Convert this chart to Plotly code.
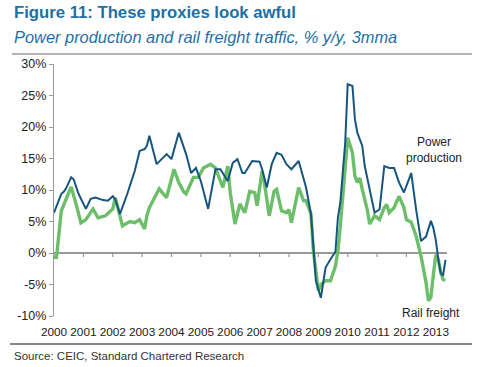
import plotly.graph_objects as go

# Month offsets from Jan 2000 and values (% y/y, 3mma)
power_months = [0, 3, 4, 5, 7, 8, 10, 11, 13, 15, 17, 20, 22, 24, 25, 27, 30, 33, 35, 37, 38, 39,
                42, 46, 48, 51, 54, 56, 58, 60, 63, 66, 68, 71, 73, 75, 77, 78, 81, 84, 85, 87,
                89, 91, 93, 95, 97, 100, 103, 105, 106, 107, 109, 110, 111, 113, 115, 116, 117,
                119, 120, 122, 123, 124, 126, 127, 129, 131, 133, 134, 135, 137, 139, 141, 143,
                145, 146, 148, 150, 152, 154, 155, 156, 157, 158, 159, 160]
power_values = [6.4, 9.4, 9.7, 10.3, 12.0, 11.7, 9.4, 8.6, 7.0, 8.6, 8.8, 8.4, 8.3, 9.0, 8.5, 6.2,
                9.4, 13.0, 16.2, 16.5, 17.0, 18.6, 14.1, 15.7, 14.9, 19.1, 15.7, 12.7, 13.5, 11.4,
                7.0, 13.3, 13.3, 11.4, 14.3, 14.9, 12.7, 12.7, 14.6, 14.5, 13.3, 10.4, 14.1, 15.9,
                15.6, 14.1, 13.3, 14.6, 10.4, 6.2, 0.8, -4.4, -7.1, -4.4, -2.3, -1.0, 0.2, 5.6,
                8.0, 17.5, 26.8, 26.5, 21.2, 19.1, 17.0, 13.8, 10.1, 6.4, 6.9, 10.6, 13.8, 13.5,
                13.5, 11.2, 9.6, 11.7, 12.7, 6.9, 1.9, 2.6, 5.1, 4.0, 2.0, -1.0, -3.1, -3.6, -1.1]

rail_months = [0, 1, 3, 5, 7, 9, 11, 13, 16, 18, 21, 24, 25, 28, 31, 33, 35, 37, 38, 39, 43, 44,
               46, 49, 51, 53, 54, 57, 59, 61, 64, 66, 69, 71, 72, 74, 76, 78, 80, 82, 83, 85, 86,
               88, 90, 91, 93, 95, 96, 97, 100, 102, 103, 105, 106, 108, 109, 111, 113, 115, 116,
               117, 119, 120, 122, 123, 124, 125, 126, 128, 129, 131, 133, 135, 136, 137, 139,
               141, 143, 144, 146, 148, 150, 152, 153, 154, 155, 156, 157, 158, 159, 160]
rail_values = [-0.7, -0.7, 6.7, 8.6, 10.5, 7.8, 4.8, 5.3, 7.0, 5.6, 5.9, 7.0, 8.8, 4.3, 5.0, 4.8,
               5.3, 3.8, 5.9, 7.2, 10.2, 9.7, 8.8, 13.3, 11.2, 9.7, 9.4, 12.0, 12.0, 13.5, 14.1,
               13.5, 10.4, 13.8, 9.6, 4.6, 7.8, 6.4, 9.8, 9.6, 7.5, 13.0, 11.2, 5.9, 9.8, 10.1,
               6.7, 6.4, 6.9, 4.8, 10.4, 8.3, 8.3, 6.2, 0.3, -6.0, -5.0, -4.4, -4.4, -2.1, 0.3,
               4.3, 14.3, 18.3, 15.9, 12.2, 11.2, 11.9, 10.1, 6.9, 4.6, 5.9, 5.3, 7.2, 7.7, 6.4,
               7.2, 9.0, 7.2, 5.3, 4.9, 2.7, -0.5, -4.7, -7.6, -7.0, -3.5, -0.3, -1.0, -3.0,
               -4.2, -4.3]

years = list(range(2000, 2014))
y_ticks = [-10, -5, 0, 5, 10, 15, 20, 25, 30]
y_labels = ["-10%", "-5%", "0%", "5%", "10%", "15%", "20%", "25%", "30%"]


def to_date(m):
    return f"{2000 + m // 12}-{m % 12 + 1:02d}-01"


power_x = [to_date(m) for m in power_months]
rail_x = [to_date(m) for m in rail_months]

FONT = "Arial, Liberation Sans, sans-serif"
TITLE_COLOR = "#1F6FA3"
BLUE = "#17557F"
GREEN = "#6DBE6B"

fig = go.Figure()
fig.add_trace(go.Scatter(x=rail_x, y=rail_values, mode="lines", name="Rail freight",
                         line=dict(color=GREEN, width=3.4)))
fig.add_trace(go.Scatter(x=power_x, y=power_values, mode="lines", name="Power production",
                         line=dict(color=BLUE, width=2)))

shapes = []
# x-axis tick marks hanging from the 0% line
for yr in years:
    shapes.append(dict(type="line", xref="x", yref="y", x0=f"{yr}-01-01", x1=f"{yr}-01-01",
                       y0=0, y1=-0.65, line=dict(color="#999999", width=1.2)))
# header and footer rules
shapes.append(dict(type="line", xref="paper", yref="paper", x0=-0.107, x1=1.0636,
                   y0=1.0397, y1=1.0397, line=dict(color="#9a9a9a", width=1.5)))
shapes.append(dict(type="line", xref="paper", yref="paper", x0=-0.112, x1=1.0636,
                   y0=-0.111, y1=-0.111, line=dict(color="#888888", width=2)))

annotations = [
    dict(text="<b>Figure 11: These proxies look awful</b>", xref="paper", yref="paper",
         x=-0.107, y=1.205, xanchor="left", yanchor="middle", showarrow=False,
         font=dict(family=FONT, size=16.7, color=TITLE_COLOR)),
    dict(text="<i>Power production and rail freight traffic, % y/y, 3mma</i>", xref="paper",
         yref="paper", x=-0.107, y=1.106, xanchor="left", yanchor="middle", showarrow=False,
         font=dict(family=FONT, size=16.4, color=TITLE_COLOR)),
    dict(text="Source: CEIC, Standard Chartered Research", xref="paper", yref="paper",
         x=-0.107, y=-0.159, xanchor="left", yanchor="middle", showarrow=False,
         font=dict(family=FONT, size=11.5, color="#333333")),
    dict(text="Power<br>production", x="2012-12-12", y=16.4, xref="x", yref="y",
         showarrow=False, xanchor="center", yanchor="middle",
         font=dict(family=FONT, size=12, color="#222222")),
    dict(text="Rail freight", x="2012-11-05", y=-9.5, xref="x", yref="y",
         showarrow=False, xanchor="center", yanchor="middle",
         font=dict(family=FONT, size=12, color="#222222")),
]

fig.update_layout(
    width=480, height=367,
    margin=dict(l=54, r=33, t=64, b=51),
    paper_bgcolor="white", plot_bgcolor="white",
    showlegend=False,
    shapes=shapes,
    annotations=annotations,
    xaxis=dict(type="date", range=["2000-01-01", "2013-05-20"],
               tickvals=[f"{yr}-01-01" for yr in years], ticktext=[str(yr) for yr in years],
               showgrid=False, zeroline=False, showline=False, ticks="",
               ticklabelstandoff=7,
               tickfont=dict(family=FONT, size=11.8, color="#222222")),
    yaxis=dict(range=[-10, 30], tickvals=y_ticks, ticktext=y_labels,
               showgrid=False, zeroline=True, zerolinecolor="#999999", zerolinewidth=1.5,
               showline=True, linecolor="#999999", linewidth=1.2,
               ticks="outside", ticklen=4, tickcolor="#999999",
               tickfont=dict(family=FONT, size=12.5, color="#222222")),
)

fig.write_html("out.html", config={"displayModeBar": False},
               post_script="document.body.style.margin='0';document.body.style.padding='0';")
